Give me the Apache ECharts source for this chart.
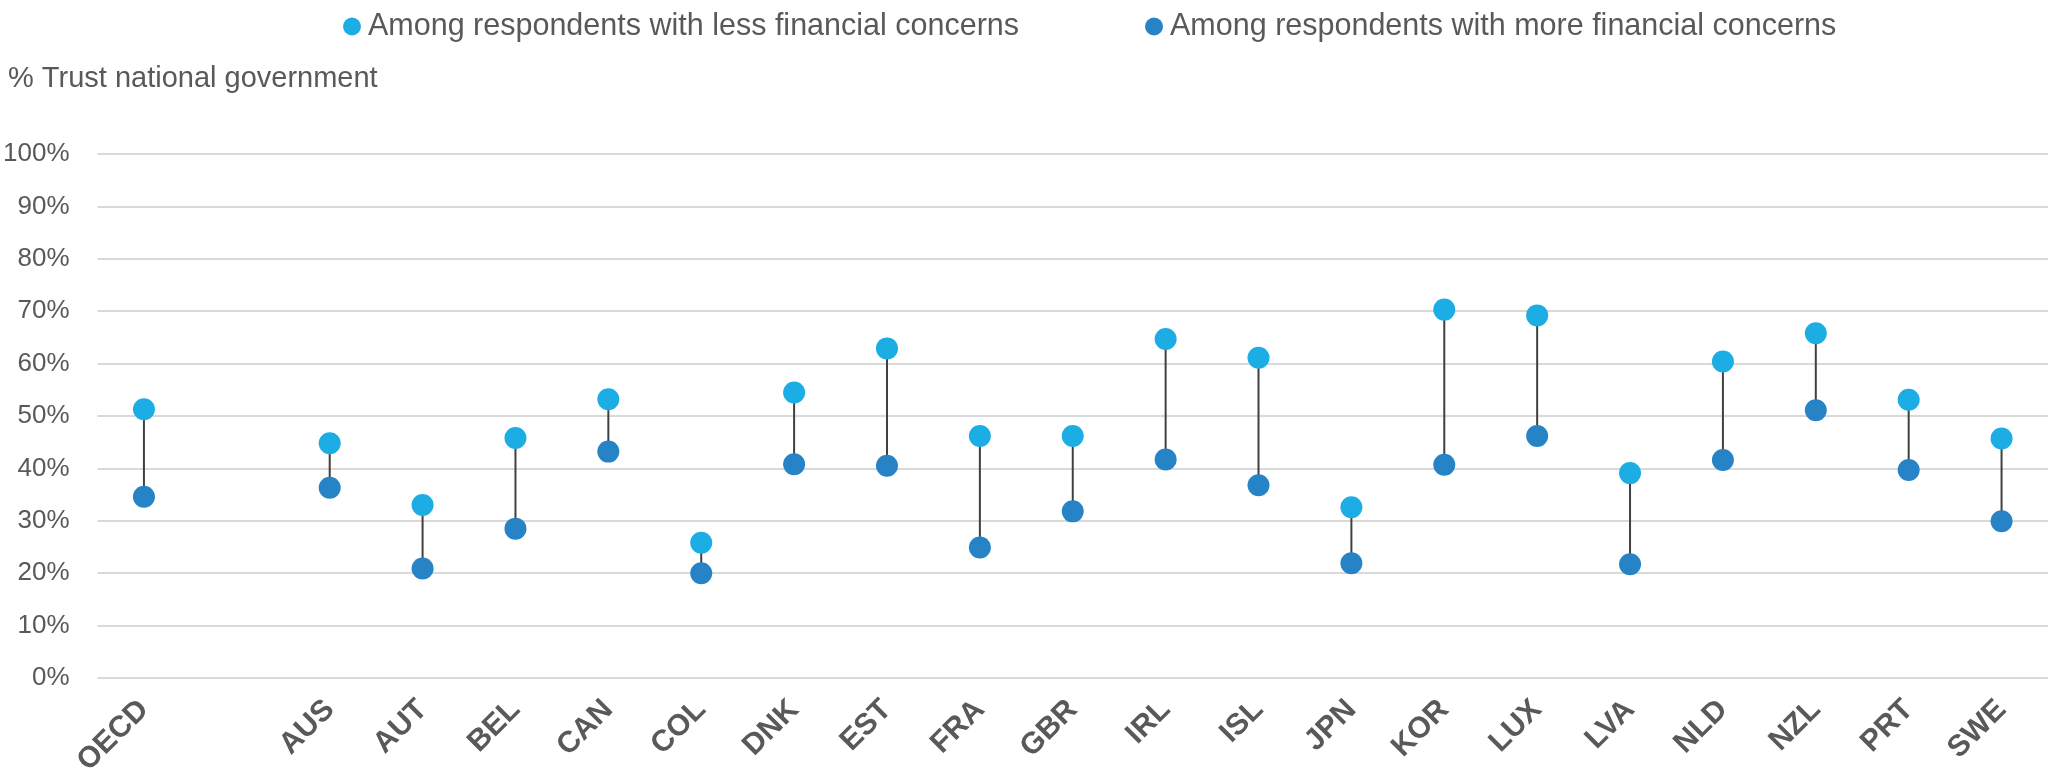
<!DOCTYPE html>
<html>
<head>
<meta charset="utf-8">
<script src="https://cdn.jsdelivr.net/npm/echarts@6/dist/echarts.min.js"></script>
<style>
html,body{margin:0;padding:0;background:#fff;}
#chart{width:2048px;height:779px;}
</style>
</head>
<body>
<div id="chart"></div>
<script>
// Data
const categories = ['OECD','','AUS','AUT','BEL','CAN','COL','DNK','EST','FRA','GBR','IRL','ISL','JPN','KOR','LUX','LVA','NLD','NZL','PRT','SWE'];
const lessConcerns = [51.3, null, 44.8, 33.0, 45.8, 53.2, 25.8, 54.5, 62.9, 46.2, 46.2, 64.7, 61.1, 32.6, 70.3, 69.2, 39.1, 60.4, 65.8, 53.1, 45.7];
const moreConcerns = [34.6, null, 36.3, 20.9, 28.5, 43.2, 20.0, 40.8, 40.5, 24.9, 31.8, 41.7, 36.8, 21.9, 40.7, 46.2, 21.7, 41.6, 51.1, 39.7, 29.9];
const seriesNames = ['Among respondents with less financial concerns', 'Among respondents with more financial concerns'];
const yTitle = '% Trust national government';

const FONT = '"Liberation Sans", Arial, sans-serif';
const TXT = '#595959';
const C_LESS = '#1CADE4';
const C_MORE = '#2683C6';

const rangeData = categories.map((c, i) => [i, lessConcerns[i], moreConcerns[i]]).filter(d => d[1] != null && d[2] != null);

const chart = echarts.init(document.getElementById('chart'), null, {renderer: 'canvas'});
chart.setOption({
  animation: false,
  backgroundColor: '#ffffff',
  textStyle: {fontFamily: FONT, color: TXT},
  title: {
    text: yTitle, left: 3, top: 59,
    textStyle: {fontFamily: FONT, fontSize: 29, fontWeight: 'normal', color: TXT}
  },
  legend: {
    top: 6, left: 338,
    itemWidth: 18, itemHeight: 18, itemGap: 126,
    icon: 'circle',
    textStyle: {fontFamily: FONT, fontSize: 30.5, color: TXT, padding: [0, 0, 0, 2]},
    data: seriesNames
  },
  grid: {left: 90, right: 0, top: 154, bottom: 101, containLabel: false},
  xAxis: {
    type: 'category',
    data: categories,
    boundaryGap: true,
    axisLine: {show: false},
    axisTick: {show: false},
    axisLabel: {
      rotate: 45, margin: 27, interval: 0,
      fontFamily: FONT, fontSize: 30, fontWeight: 'bold', color: TXT
    }
  },
  yAxis: {
    type: 'value', min: 0, max: 100, interval: 10,
    axisLine: {show: false}, axisTick: {show: false},
    axisLabel: {formatter: '{value}%', margin: 28, fontFamily: FONT, fontSize: 26, color: TXT},
    splitLine: {lineStyle: {color: '#D9D9D9', width: 2}}
  },
  series: [
    {
      type: 'custom',
      name: 'range',
      silent: true,
      z: 1,
      encode: {x: 0, y: [1, 2]},
      data: rangeData,
      renderItem: function (params, api) {
        const p1 = api.coord([api.value(0), api.value(1)]);
        const p2 = api.coord([api.value(0), api.value(2)]);
        return {
          type: 'line',
          shape: {x1: p1[0], y1: p1[1], x2: p2[0], y2: p2[1]},
          style: {stroke: '#404040', lineWidth: 2}
        };
      }
    },
    {
      type: 'scatter', name: seriesNames[0], z: 3,
      symbol: 'circle', symbolSize: 22,
      itemStyle: {color: C_LESS, opacity: 1},
      emphasis: {disabled: true},
      data: lessConcerns
    },
    {
      type: 'scatter', name: seriesNames[1], z: 3,
      symbol: 'circle', symbolSize: 22,
      itemStyle: {color: C_MORE, opacity: 1},
      emphasis: {disabled: true},
      data: moreConcerns
    }
  ]
});
</script>
</body>
</html>
